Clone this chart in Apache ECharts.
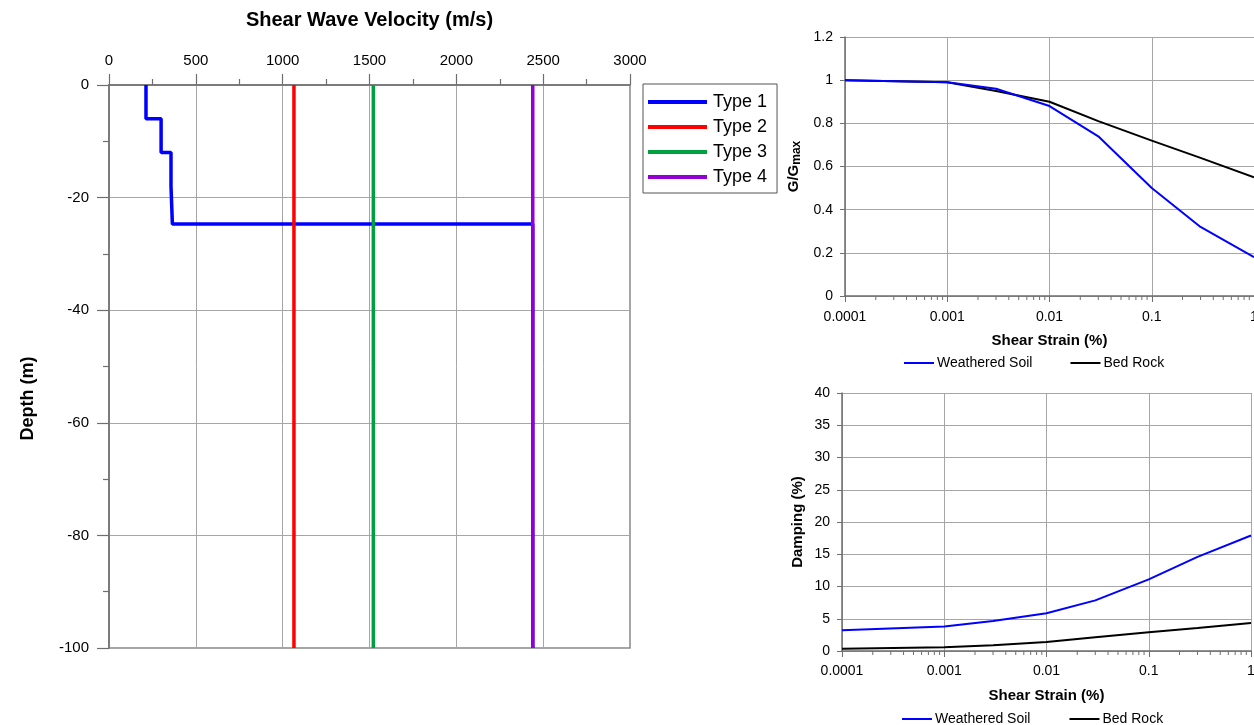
<!DOCTYPE html>
<html><head><meta charset="utf-8">
<script src="https://cdn.jsdelivr.net/npm/echarts@6/dist/echarts.min.js"></script>
<style>html,body{margin:0;padding:0;background:#fff}#c{width:1254px;height:725px}</style>
</head><body><div id="c"></div>
<script>
// ---- Data ----
const velTicks = [0, 500, 1000, 1500, 2000, 2500, 3000];
const depthTicks = [0, -20, -40, -60, -80, -100];
// Type 1 layered profile: layer top depths and velocities
const type1Tops = [0, -6, -12, -18, -24.7];
const type1Vs = [213, 300, 357, 365, 2440];
const profileBottom = -100;
const type2Vs = 1065;
const type3Vs = 1522;
const type4Vs = 2440;

const strain = [0.0001, 0.001, 0.003, 0.01, 0.03, 0.1, 0.3, 1];
const ggmaxSoil = [1.0, 0.99, 0.96, 0.88, 0.74, 0.50, 0.32, 0.18];
const ggmaxRock = [1.0, 0.99, 0.95, 0.90, 0.81, 0.72, 0.64, 0.55];
const dampSoil = [3.2, 3.8, 4.65, 5.85, 7.85, 11.1, 14.6, 17.9];
const dampRock = [0.35, 0.6, 0.9, 1.4, 2.15, 2.9, 3.55, 4.35];
const strainMinorTicks = [];
[0.0001, 0.001, 0.01, 0.1].forEach(d => { for (let k = 2; k <= 9; k++) strainMinorTicks.push(+(d * k).toPrecision(3)); });

// ---- Build ----
const type1Pts = [];
for (let i = 0; i < type1Tops.length; i++) {
  const bottom = i + 1 < type1Tops.length ? type1Tops[i + 1] : profileBottom;
  type1Pts.push([type1Vs[i], type1Tops[i]], [type1Vs[i], bottom]);
}
const vline = v => [[v, 0], [v, profileBottom]];

const FONT = '"Liberation Sans", Arial, sans-serif';
const AX = '#6e6e6e', GR = '#a6a6a6';
const BLUE = '#0000ff', BLACK = '#000000';
const fmtStrain = v => String(parseFloat(Number(v).toPrecision(6)));

function logX(gi, margin) {
  return {
    type: 'log', logBase: 10, gridIndex: gi, min: 0.0001, max: 1,
    name: 'Shear Strain (%)', nameLocation: 'middle', nameGap: 37,
    nameTextStyle: { fontFamily: FONT, fontSize: 15, fontWeight: 'bold', color: '#000' },
    axisLine: { lineStyle: { color: AX, width: 1.5 } },
    axisTick: { show: true, length: 6, lineStyle: { color: AX } },
    axisLabel: { fontFamily: FONT, fontSize: 14, color: '#000', margin: margin, formatter: fmtStrain, showMaxLabel: true },
    splitLine: { show: true, lineStyle: { color: GR, width: 1 } }
  };
}
function minorSeries(xi, yi) {
  return {
    type: 'custom', xAxisIndex: xi, yAxisIndex: yi, silent: true, z: 5, clip: false,
    data: strainMinorTicks.map(v => [v, 0]),
    renderItem: (params, api) => {
      const p = api.coord([api.value(0), api.value(1)]);
      return { type: 'line', shape: { x1: p[0], y1: p[1], x2: p[0], y2: p[1] + 4 }, style: { stroke: AX, lineWidth: 1 } };
    }
  };
}

const option = {
  backgroundColor: '#ffffff',
  animation: false,
  textStyle: { fontFamily: FONT },
  grid: [
    { left: 109, top: 85, right: 624, bottom: 77, show: true, borderColor: '#888', borderWidth: 1.5, outerBoundsMode: 'none', containLabel: false },
    { left: 845, top: 37, right: 0, height: 259, outerBoundsMode: 'none', containLabel: false },
    { left: 842, top: 393, right: 3, height: 258, outerBoundsMode: 'none', containLabel: false }
  ],
  legend: [
    {
      left: 643, top: 84, orient: 'vertical', itemWidth: 59, itemHeight: 4, itemGap: 5, icon: 'rect',
      padding: [8, 10, 6, 5], borderColor: '#555', borderWidth: 1,
      textStyle: { fontFamily: FONT, fontSize: 18, lineHeight: 20, color: '#000', padding: [0, 0, 0, 1] },
      data: ['Type 1', 'Type 2', 'Type 3', 'Type 4']
    },
    {
      left: 899, top: 351, itemWidth: 30, itemHeight: 2, itemGap: 38, icon: 'rect',
      textStyle: { fontFamily: FONT, fontSize: 14, color: '#000', padding: [0, 0, 0, -2] },
      data: [{ name: 'Weathered Soil' }, { name: 'Bed Rock' }]
    },
    {
      left: 897, top: 707, itemWidth: 30, itemHeight: 2, itemGap: 39, icon: 'rect',
      textStyle: { fontFamily: FONT, fontSize: 14, color: '#000', padding: [0, 0, 0, -2] },
      data: [{ name: 'Weathered Soil' }, { name: 'Bed Rock' }]
    }
  ],
  xAxis: [
    {
      type: 'value', gridIndex: 0, position: 'top', min: 0, max: 3000, interval: 500,
      name: 'Shear Wave Velocity (m/s)', nameLocation: 'middle', nameGap: 55,
      nameTextStyle: { fontFamily: FONT, fontSize: 20, fontWeight: 'bold', color: '#000' },
      axisLine: { onZero: false, lineStyle: { color: AX, width: 1.5 } },
      axisTick: { show: true, inside: false, length: 11, lineStyle: { color: AX, width: 1.2 } },
      minorTick: { show: true, splitNumber: 2, length: 6, lineStyle: { color: AX, width: 1.2 } },
      axisLabel: { fontFamily: FONT, fontSize: 15, color: '#000', margin: 17, formatter: v => String(v) },
      splitLine: { show: true, lineStyle: { color: GR, width: 1 } }
    },
    logX(1, 14),
    logX(2, 13)
  ],
  yAxis: [
    {
      type: 'value', gridIndex: 0, min: -100, max: 0, interval: 20,
      name: 'Depth (m)', nameLocation: 'middle', nameGap: 72, nameRotate: 90,
      nameTextStyle: { fontFamily: FONT, fontSize: 18, fontWeight: 'bold', color: '#000', padding: [0, 64, 0, 0] },
      axisLine: { onZero: false, lineStyle: { color: AX, width: 1.5 } },
      axisTick: { show: true, length: 12, lineStyle: { color: AX, width: 1.2 } },
      minorTick: { show: true, splitNumber: 2, length: 6, lineStyle: { color: AX, width: 1.2 } },
      axisLabel: { fontFamily: FONT, fontSize: 15, color: '#000', margin: 20, formatter: v => String(v) },
      splitLine: { show: true, lineStyle: { color: GR, width: 1 } }
    },
    {
      type: 'value', gridIndex: 1, min: 0, max: 1.2, interval: 0.2,
      name: '{a|G/G}{b|max}', nameLocation: 'middle', nameGap: 42, nameRotate: 90,
      nameTextStyle: {
        rich: {
          a: { fontFamily: FONT, fontSize: 15, fontWeight: 'bold', color: '#000' },
          b: { fontFamily: FONT, fontSize: 12, fontWeight: 'bold', color: '#000', padding: [6, 0, 0, 0] }
        }
      },
      axisLine: { show: true, lineStyle: { color: AX, width: 1.5 } },
      axisTick: { show: true, length: 5, lineStyle: { color: AX } },
      axisLabel: { fontFamily: FONT, fontSize: 14, color: '#000', margin: 12 },
      splitLine: { show: true, lineStyle: { color: GR, width: 1 } }
    },
    {
      type: 'value', gridIndex: 2, min: 0, max: 40, interval: 5,
      name: 'Damping (%)', nameLocation: 'middle', nameGap: 37, nameRotate: 90,
      nameTextStyle: { fontFamily: FONT, fontSize: 15, fontWeight: 'bold', color: '#000' },
      axisLine: { show: true, lineStyle: { color: AX, width: 1.5 } },
      axisTick: { show: true, length: 5, lineStyle: { color: AX } },
      axisLabel: { fontFamily: FONT, fontSize: 14, color: '#000', margin: 12 },
      splitLine: { show: true, lineStyle: { color: GR, width: 1 } }
    }
  ],
  series: [
    { name: 'Type 1', type: 'line', xAxisIndex: 0, yAxisIndex: 0, data: type1Pts, symbol: 'none', color: BLUE, lineStyle: { width: 3.5, color: BLUE }, z: 3 },
    { name: 'Type 2', type: 'line', xAxisIndex: 0, yAxisIndex: 0, data: vline(type2Vs), symbol: 'none', color: '#ff0000', lineStyle: { width: 3.5, color: '#ff0000' }, z: 4 },
    { name: 'Type 3', type: 'line', xAxisIndex: 0, yAxisIndex: 0, data: vline(type3Vs), symbol: 'none', color: '#00a040', lineStyle: { width: 3.5, color: '#00a040' }, z: 4 },
    { name: 'Type 4', type: 'line', xAxisIndex: 0, yAxisIndex: 0, data: vline(type4Vs), symbol: 'none', color: '#9400d3', lineStyle: { width: 3.5, color: '#9400d3' }, z: 4 },
    { name: 'Weathered Soil', type: 'line', xAxisIndex: 1, yAxisIndex: 1, data: strain.map((s, i) => [s, ggmaxSoil[i]]), symbol: 'none', color: BLUE, lineStyle: { width: 2, color: BLUE }, z: 4 },
    { name: 'Bed Rock', type: 'line', xAxisIndex: 1, yAxisIndex: 1, data: strain.map((s, i) => [s, ggmaxRock[i]]), symbol: 'none', color: BLACK, lineStyle: { width: 2, color: BLACK }, z: 3 },
    { name: 'Weathered Soil', type: 'line', xAxisIndex: 2, yAxisIndex: 2, data: strain.map((s, i) => [s, dampSoil[i]]), symbol: 'none', color: BLUE, lineStyle: { width: 2, color: BLUE }, z: 4 },
    { name: 'Bed Rock', type: 'line', xAxisIndex: 2, yAxisIndex: 2, data: strain.map((s, i) => [s, dampRock[i]]), symbol: 'none', color: BLACK, lineStyle: { width: 2, color: BLACK }, z: 3 },
    minorSeries(1, 1),
    minorSeries(2, 2)
  ]
};
const chart = echarts.init(document.getElementById('c'), null, { renderer: 'canvas' });
chart.setOption(option);
</script></body></html>
